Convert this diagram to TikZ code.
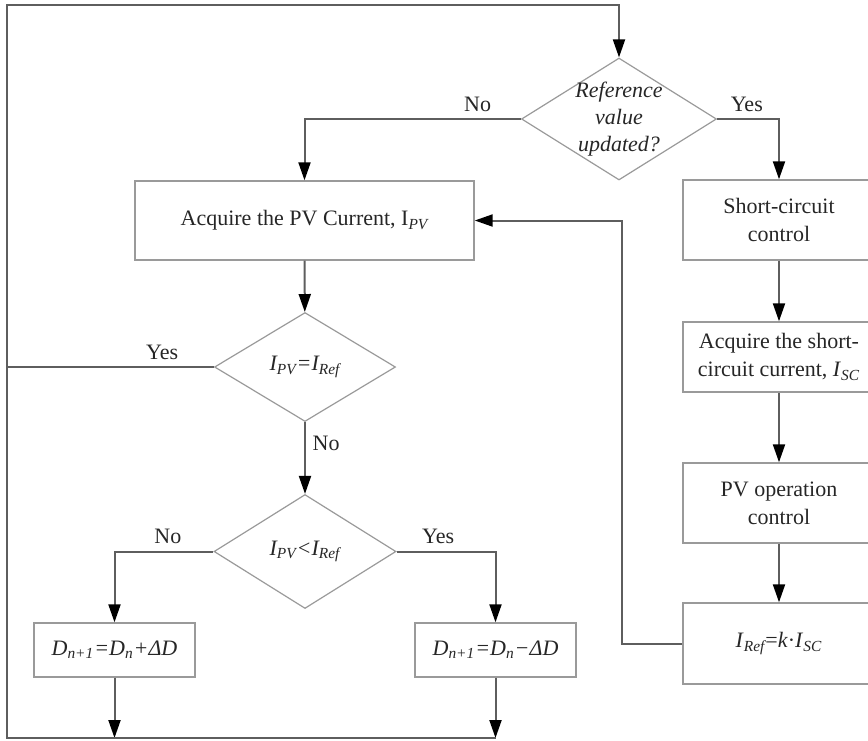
\documentclass[tikz,border=0pt]{standalone}
\usepackage{fontspec}
\setmainfont{Liberation Serif}
\usetikzlibrary{arrows.meta,positioning,shapes.geometric}
\definecolor{frame}{HTML}{9A9A9A}
\definecolor{wire}{HTML}{5E5E5E}
\definecolor{ink}{HTML}{262626}
\newcommand{\lowidx}[1]{\textsubscript{\itshape #1}}

\begin{document}
\begin{tikzpicture}[x=0.5pt, y=-0.5pt, every node/.style={font=\fontsize{11}{14}\selectfont, text=ink}, box/.style={draw=frame, line width=0.7pt, align=center, inner sep=0pt, minimum width=96pt}, test/.style={diamond, draw=frame, line width=0.6pt, inner sep=0pt}, flow/.style={draw=wire, line width=1pt}, arr/.style={flow, -{Triangle[length=9pt, width=6pt, color=black]}}]
        \useasboundingbox (0,0) rectangle (868,740);
        \node[test, minimum width=97.5pt, minimum height=61pt, label={[align=center, font=\fontsize{11}{13.5}\selectfont\itshape]center:Reference\\value\\updated?}] (upd) at (619,119) {};
        \node[box, minimum width=169.5pt, minimum height=39.5pt] (ipv) at (304.5,220.5) {Acquire the PV Current, I\lowidx{PV}};
        \node[test, minimum width=90.5pt, minimum height=54.5pt, label={[font=\fontsize{11}{14}\selectfont\itshape]center:I\lowidx{PV}=I\lowidx{Ref}}] (same) at (305,367) {};
        \node[test, minimum width=91pt, minimum height=57pt, label={[font=\fontsize{11}{14}\selectfont\itshape]center:I\lowidx{PV}<I\lowidx{Ref}}] (less) at (305,551.5) {};
        \node[box, minimum width=80.5pt, minimum height=27pt, font=\fontsize{11}{14}\selectfont\itshape] (up) at (114.5,650) {D\lowidx{n+1}=D\lowidx{n}+ΔD};
        \node[box, minimum width=80.5pt, minimum height=27pt, font=\fontsize{11}{14}\selectfont\itshape] (down) at (495.5,650) {D\lowidx{n+1}=D\lowidx{n}−ΔD};
        \node[box, minimum height=40pt] (sc) at (779,220) {Short-circuit\\control};
        \node[box, minimum height=35pt] (isc) at (779,357) {Acquire the short-\\circuit current, \textit{I}\lowidx{SC}};
        \node[box, minimum height=40pt] (pvop) at (779,503) {PV operation\\control};
        \node[box, minimum height=40.5pt] (iref) at (779,643.5) {\textit{I}\lowidx{Ref}=\textit{k}·\textit{I}\lowidx{SC}};
        \coordinate (tl) at (7,5);
        \coordinate (bl) at (7,738);
        \coordinate (fb) at (622,643.5);
        \draw[arr] (upd.west) -| node[pos=0.1, above]{No} (ipv.north);
        \draw[arr] (upd.east) -| node[pos=0.24, above]{Yes} (sc.north);
        \draw[arr] (ipv) -- (same);
        \draw[flow] (same.west) -- node[pos=0.25, above]{Yes} (same.west -| bl);
        \draw[arr] (same) -- node[pos=0.3, right]{No} (less);
        \draw[arr] (less.west) -| node[pos=0.23, above]{No} (up.north);
        \draw[arr] (less.east) -| node[pos=0.21, above]{Yes} (down.north);
        \draw[arr] (up) -- (up |- bl);
        \draw[arr] (down) -- (down |- bl);
        \draw[arr] (down |- bl) -- (bl) -- (tl) -| (upd.north);
        \draw[arr] (sc) -- (isc);
        \draw[arr] (isc) -- (pvop);
        \draw[arr] (pvop) -- (iref);
        \draw[arr] (iref.west) -- (fb) |- (ipv.east);
      \end{tikzpicture}
\end{document}
